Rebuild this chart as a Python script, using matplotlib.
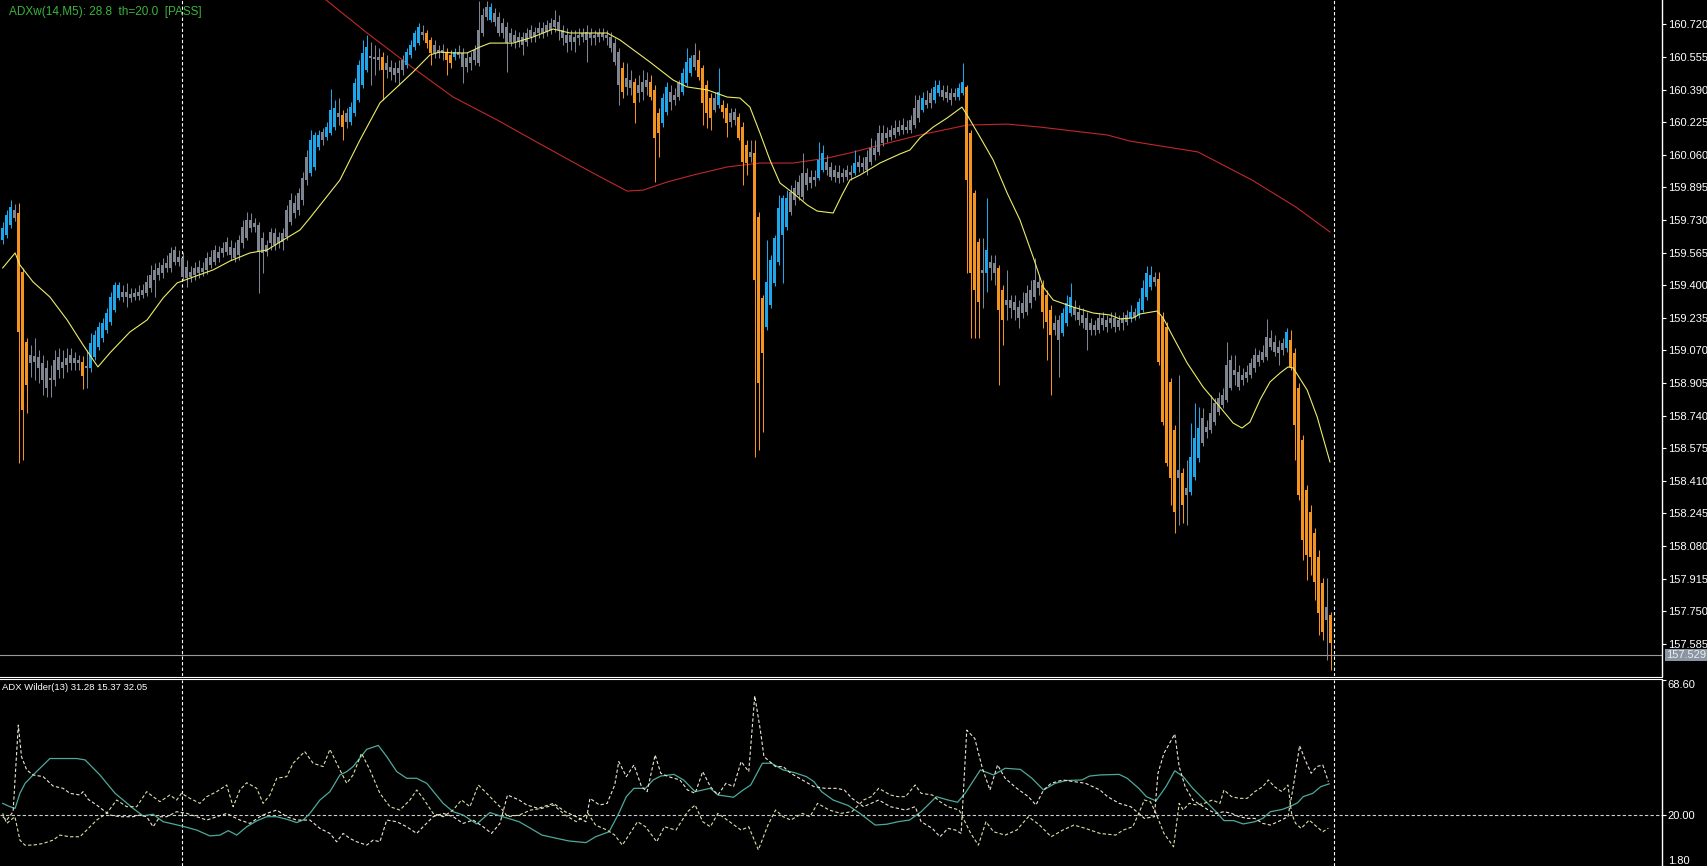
import matplotlib.pyplot as plt
from matplotlib.lines import Line2D

# USDJPY-style M5 candles, oldest first (bar index = position in list)
opens = [
    159.628, 159.654, 159.704, 159.780, 159.765, 159.466, 159.112, 159.006, 159.041, 159.036,
    159.006, 158.981, 158.920, 158.920, 158.970, 159.011, 158.996, 159.006, 159.031, 159.006,
    159.011, 158.981, 158.981, 159.036, 159.087, 159.132, 159.173, 159.213, 159.274, 159.335,
    159.365, 159.340, 159.355, 159.340, 159.345, 159.350, 159.360, 159.385, 159.426, 159.451,
    159.461, 159.487, 159.487, 159.517, 159.542, 159.537, 159.436, 159.466, 159.451, 159.461,
    159.487, 159.477, 159.502, 159.517, 159.568, 159.563, 159.568, 159.593, 159.537, 159.552,
    159.613, 159.638, 159.730, 159.694, 159.704, 159.563, 159.603, 159.613, 159.664, 159.613,
    159.618, 159.644, 159.719, 159.816, 159.780, 159.831, 159.932, 159.967, 159.998, 160.099,
    160.134, 160.150, 160.170, 160.200, 160.271, 160.261, 160.226, 160.226, 160.271, 160.337,
    160.413, 160.489, 160.560, 160.544, 160.555, 160.555, 160.489, 160.504, 160.463, 160.499,
    160.489, 160.514, 160.565, 160.605, 160.625, 160.681, 160.676, 160.641, 160.575, 160.590,
    160.575, 160.580, 160.565, 160.555, 160.580, 160.575, 160.504, 160.524, 160.539, 160.524,
    160.676, 160.757, 160.742, 160.777, 160.757, 160.676, 160.706, 160.630, 160.666, 160.630,
    160.656, 160.630, 160.656, 160.681, 160.676, 160.701, 160.681, 160.691, 160.706, 160.732,
    160.691, 160.666, 160.630, 160.656, 160.651, 160.656, 160.681, 160.651, 160.666, 160.656,
    160.676, 160.666, 160.656, 160.625, 160.580, 160.499, 160.403, 160.438, 160.428, 160.372,
    160.377, 160.403, 160.428, 160.388, 160.271, 160.220, 160.276, 160.377, 160.337, 160.352,
    160.377, 160.423, 160.474, 160.504, 160.539, 160.499, 160.413, 160.347, 160.286, 160.312,
    160.312, 160.296, 160.226, 160.276, 160.251, 160.200, 160.109, 160.048, 160.069, 159.745,
    159.335, 159.188, 159.299, 159.411, 159.517, 159.654, 159.694, 159.770, 159.831, 159.856,
    159.846, 159.967, 159.917, 159.947, 159.942, 159.983, 160.023, 159.998, 159.947, 159.973,
    159.947, 159.947, 159.973, 159.967, 159.998, 160.018, 159.983, 160.023, 160.094, 160.074,
    160.170, 160.145, 160.150, 160.160, 160.175, 160.185, 160.200, 160.185, 160.210, 160.246,
    160.286, 160.337, 160.322, 160.337, 160.372, 160.388, 160.347, 160.372, 160.352, 160.352,
    160.372, 160.403, 160.170, 159.866, 159.618, 159.461, 159.461, 159.517, 159.512, 159.487,
    159.375, 159.299, 159.325, 159.315, 159.289, 159.259, 159.264, 159.310, 159.340, 159.416,
    159.401, 159.350, 159.274, 159.173, 159.224, 159.158, 159.208, 159.259, 159.289, 159.264,
    159.249, 159.234, 159.173, 159.198, 159.173, 159.234, 159.188, 159.208, 159.234, 159.188,
    159.208, 159.213, 159.234, 159.264, 159.249, 159.274, 159.340, 159.390, 159.441, 159.431,
    159.239, 159.188, 158.910, 158.667, 158.424, 158.449, 158.338, 158.353, 158.429, 158.525,
    158.601, 158.682, 158.667, 158.707, 158.758, 158.793, 158.819, 158.879, 158.970, 158.960,
    158.920, 158.930, 158.945, 158.981, 159.046, 159.021, 159.036, 159.132, 159.112, 159.057,
    159.072, 159.082, 159.122, 159.057, 158.879, 158.616, 158.363, 158.252, 158.145, 158.024,
    157.892, 157.705, 157.730,
]
highs = [
    159.719, 159.780, 159.831, 159.811, 159.816, 159.487, 159.132, 159.097, 159.132, 159.072,
    159.046, 159.021, 158.996, 159.072, 159.082, 159.072, 159.082, 159.082, 159.062, 159.046,
    159.041, 159.072, 159.158, 159.173, 159.213, 159.234, 159.284, 159.365, 159.416, 159.416,
    159.401, 159.411, 159.385, 159.385, 159.401, 159.406, 159.451, 159.502, 159.512, 159.517,
    159.537, 159.552, 159.593, 159.598, 159.578, 159.568, 159.527, 159.497, 159.517, 159.527,
    159.517, 159.568, 159.578, 159.603, 159.598, 159.618, 159.644, 159.628, 159.618, 159.654,
    159.730, 159.770, 159.765, 159.740, 159.719, 159.669, 159.628, 159.689, 159.689, 159.669,
    159.689, 159.805, 159.866, 159.856, 159.892, 159.973, 160.084, 160.185, 160.175, 160.185,
    160.195, 160.226, 160.393, 160.337, 160.347, 160.286, 160.296, 160.327, 160.448, 160.539,
    160.641, 160.666, 160.630, 160.615, 160.600, 160.580, 160.565, 160.539, 160.529, 160.539,
    160.565, 160.600, 160.641, 160.691, 160.727, 160.716, 160.691, 160.656, 160.641, 160.615,
    160.620, 160.600, 160.590, 160.600, 160.615, 160.600, 160.580, 160.580, 160.615, 160.838,
    160.803, 160.838, 160.828, 160.803, 160.782, 160.752, 160.732, 160.701, 160.691, 160.681,
    160.681, 160.701, 160.716, 160.706, 160.732, 160.732, 160.742, 160.752, 160.792, 160.767,
    160.716, 160.701, 160.691, 160.691, 160.701, 160.701, 160.716, 160.701, 160.691, 160.701,
    160.701, 160.691, 160.681, 160.651, 160.600, 160.529, 160.524, 160.489, 160.448, 160.463,
    160.489, 160.479, 160.463, 160.413, 160.296, 160.372, 160.428, 160.413, 160.398, 160.438,
    160.499, 160.600, 160.565, 160.625, 160.590, 160.514, 160.438, 160.372, 160.377, 160.499,
    160.337, 160.322, 160.296, 160.296, 160.271, 160.226, 160.134, 160.134, 160.134, 159.770,
    159.350, 159.628, 159.552, 159.654, 159.856, 159.856, 159.881, 159.907, 159.932, 159.957,
    160.069, 159.993, 159.983, 159.983, 160.124, 160.109, 160.059, 160.023, 160.008, 160.008,
    159.993, 160.008, 160.008, 160.084, 160.059, 160.048, 160.084, 160.145, 160.134, 160.210,
    160.210, 160.200, 160.210, 160.236, 160.236, 160.246, 160.236, 160.261, 160.362, 160.362,
    160.377, 160.388, 160.398, 160.438, 160.438, 160.413, 160.413, 160.398, 160.398, 160.423,
    160.524, 160.413, 160.185, 159.881, 159.638, 159.638, 159.841, 159.552, 159.552, 159.502,
    159.401, 159.477, 159.350, 159.350, 159.325, 159.365, 159.401, 159.426, 159.537, 159.451,
    159.426, 159.375, 159.299, 159.249, 159.249, 159.284, 159.350, 159.411, 159.325, 159.299,
    159.284, 159.264, 159.234, 159.224, 159.259, 159.264, 159.249, 159.264, 159.264, 159.249,
    159.264, 159.274, 159.299, 159.284, 159.335, 159.426, 159.497, 159.497, 159.466, 159.466,
    159.264, 159.213, 158.930, 158.692, 158.945, 158.474, 158.515, 158.702, 158.803, 158.783,
    158.778, 158.717, 158.844, 158.829, 158.859, 158.879, 159.112, 159.046, 159.046, 158.996,
    158.981, 158.996, 159.031, 159.082, 159.072, 159.097, 159.229, 159.173, 159.148, 159.122,
    159.132, 159.183, 159.173, 159.082, 158.905, 158.641, 158.388, 158.287, 158.171, 158.059,
    157.918, 157.918, 157.746,
]
lows = [
    159.608, 159.638, 159.689, 159.725, 158.500, 158.515, 158.753, 158.935, 158.920, 158.905,
    158.844, 158.834, 158.834, 158.889, 158.930, 158.930, 158.960, 158.970, 158.970, 158.970,
    158.874, 158.879, 158.960, 159.021, 159.072, 159.112, 159.158, 159.198, 159.264, 159.325,
    159.315, 159.289, 159.315, 159.325, 159.325, 159.335, 159.345, 159.365, 159.340, 159.426,
    159.436, 159.466, 159.466, 159.502, 159.497, 159.426, 159.390, 159.416, 159.426, 159.436,
    159.446, 159.456, 159.487, 159.502, 159.517, 159.542, 159.552, 159.527, 159.517, 159.527,
    159.588, 159.628, 159.669, 159.669, 159.360, 159.461, 159.547, 159.578, 159.578, 159.588,
    159.578, 159.628, 159.704, 159.740, 159.755, 159.805, 159.907, 159.952, 159.983, 160.084,
    160.109, 160.134, 160.160, 160.185, 160.210, 160.134, 160.195, 160.210, 160.256, 160.327,
    160.398, 160.479, 160.413, 160.463, 160.489, 160.337, 160.448, 160.438, 160.428, 160.413,
    160.463, 160.499, 160.549, 160.590, 160.615, 160.641, 160.600, 160.514, 160.549, 160.549,
    160.539, 160.463, 160.499, 160.539, 160.549, 160.423, 160.479, 160.489, 160.514, 160.509,
    160.661, 160.742, 160.732, 160.711, 160.661, 160.651, 160.479, 160.610, 160.600, 160.605,
    160.565, 160.610, 160.630, 160.630, 160.651, 160.651, 160.661, 160.671, 160.681, 160.641,
    160.615, 160.580, 160.590, 160.580, 160.615, 160.630, 160.529, 160.615, 160.615, 160.630,
    160.641, 160.615, 160.580, 160.514, 160.312, 160.347, 160.362, 160.362, 160.220, 160.327,
    160.337, 160.362, 160.337, 159.922, 160.048, 160.200, 160.261, 160.286, 160.312, 160.337,
    160.362, 160.408, 160.458, 160.489, 160.438, 160.210, 160.195, 160.185, 160.276, 160.296,
    160.246, 160.150, 160.200, 160.210, 160.134, 159.907, 159.957, 160.023, 158.530, 158.566,
    158.657, 159.173, 159.284, 159.396, 159.502, 159.411, 159.679, 159.755, 159.805, 159.831,
    159.831, 159.881, 159.892, 159.902, 159.932, 159.973, 159.957, 159.932, 159.922, 159.917,
    159.922, 159.932, 159.932, 159.957, 159.973, 159.973, 159.957, 160.008, 160.033, 160.059,
    160.104, 160.124, 160.134, 160.145, 160.160, 160.165, 160.170, 160.170, 160.195, 160.226,
    160.276, 160.296, 160.296, 160.322, 160.357, 160.337, 160.327, 160.312, 160.337, 160.337,
    160.362, 159.461, 159.132, 159.132, 159.132, 159.284, 159.365, 159.426, 159.401, 158.895,
    159.097, 159.224, 159.234, 159.224, 159.183, 159.234, 159.249, 159.284, 159.325, 159.350,
    159.183, 159.021, 158.844, 159.148, 158.935, 159.143, 159.193, 159.244, 159.224, 159.198,
    159.183, 159.072, 159.148, 159.148, 159.158, 159.173, 159.163, 159.183, 159.163, 159.173,
    159.173, 159.198, 159.213, 159.224, 159.234, 159.264, 159.325, 159.375, 159.396, 158.996,
    158.692, 158.485, 158.287, 158.145, 158.186, 158.196, 158.186, 158.338, 158.414, 158.505,
    158.586, 158.626, 158.652, 158.692, 158.743, 158.778, 158.808, 158.869, 158.895, 158.869,
    158.895, 158.910, 158.930, 158.960, 158.991, 159.011, 159.021, 159.072, 159.041, 158.996,
    159.046, 159.062, 158.970, 158.515, 158.313, 158.009, 157.908, 157.933, 157.806, 157.629,
    157.604, 157.503, 157.452,
]
closes = [
    159.689, 159.755, 159.795, 159.740, 159.163, 158.768, 158.895, 159.046, 159.011, 158.981,
    158.920, 158.879, 158.930, 159.021, 159.036, 158.981, 159.031, 159.046, 159.006, 159.021,
    158.940, 158.991, 159.107, 159.148, 159.188, 159.208, 159.259, 159.340, 159.401, 159.401,
    159.340, 159.365, 159.335, 159.360, 159.365, 159.375, 159.416, 159.451, 159.477, 159.487,
    159.502, 159.512, 159.563, 159.578, 159.517, 159.441, 159.492, 159.441, 159.487, 159.492,
    159.466, 159.537, 159.542, 159.578, 159.537, 159.588, 159.618, 159.552, 159.588, 159.628,
    159.694, 159.730, 159.689, 159.714, 159.568, 159.638, 159.568, 159.669, 159.603, 159.644,
    159.664, 159.780, 159.831, 159.765, 159.866, 159.942, 160.048, 160.134, 160.160, 160.160,
    160.175, 160.200, 160.286, 160.296, 160.251, 160.200, 160.271, 160.301, 160.423, 160.514,
    160.575, 160.605, 160.549, 160.555, 160.539, 160.489, 160.524, 160.479, 160.499, 160.474,
    160.539, 160.580, 160.615, 160.676, 160.706, 160.666, 160.625, 160.575, 160.615, 160.575,
    160.590, 160.539, 160.524, 160.580, 160.565, 160.504, 160.549, 160.555, 160.590, 160.691,
    160.767, 160.808, 160.808, 160.732, 160.676, 160.727, 160.625, 160.676, 160.630, 160.656,
    160.615, 160.676, 160.691, 160.656, 160.701, 160.676, 160.716, 160.727, 160.742, 160.691,
    160.651, 160.625, 160.666, 160.630, 160.666, 160.676, 160.641, 160.676, 160.651, 160.676,
    160.656, 160.651, 160.600, 160.529, 160.413, 160.377, 160.448, 160.398, 160.322, 160.413,
    160.428, 160.438, 160.352, 160.145, 160.170, 160.347, 160.403, 160.327, 160.362, 160.423,
    160.474, 160.529, 160.549, 160.565, 160.453, 160.322, 160.271, 160.246, 160.347, 160.377,
    160.276, 160.220, 160.271, 160.236, 160.145, 160.023, 160.018, 160.074, 159.426, 158.905,
    159.057, 159.416, 159.527, 159.638, 159.790, 159.841, 159.841, 159.871, 159.892, 159.922,
    159.967, 159.907, 159.947, 159.932, 160.033, 160.069, 159.983, 159.947, 159.983, 159.942,
    159.967, 159.983, 159.957, 160.018, 160.023, 159.998, 160.048, 160.094, 160.059, 160.170,
    160.119, 160.170, 160.185, 160.195, 160.200, 160.210, 160.185, 160.236, 160.296, 160.337,
    160.347, 160.312, 160.372, 160.403, 160.413, 160.352, 160.377, 160.337, 160.372, 160.398,
    160.428, 159.932, 159.461, 159.375, 159.315, 159.477, 159.578, 159.487, 159.461, 159.274,
    159.224, 159.325, 159.284, 159.274, 159.234, 159.310, 159.360, 159.375, 159.426, 159.385,
    159.264, 159.213, 159.148, 159.208, 159.122, 159.259, 159.310, 159.340, 159.249, 159.224,
    159.208, 159.173, 159.208, 159.173, 159.234, 159.198, 159.224, 159.234, 159.188, 159.224,
    159.234, 159.249, 159.264, 159.239, 159.315, 159.385, 159.461, 159.451, 159.416, 159.011,
    158.707, 158.500, 158.424, 158.252, 158.464, 158.287, 158.373, 158.530, 158.626, 158.677,
    158.728, 158.657, 158.753, 158.803, 158.829, 158.844, 158.996, 159.021, 158.945, 158.884,
    158.945, 158.960, 159.006, 159.046, 159.011, 159.062, 159.137, 159.087, 159.062, 159.087,
    159.107, 159.163, 158.986, 158.692, 158.338, 158.110, 158.034, 158.024, 157.897, 157.741,
    157.644, 157.771, 157.589,
]

# bar colouring from the ADX filter: b = trend up, o = trend down, g = no trend
state_runs = [
    ('b', 3), ('g', 1), ('o', 3), ('g', 13), ('o', 1), ('g', 1), ('b', 8), ('g', 47),
    ('b', 3), ('g', 1), ('b', 3), ('g', 1), ('o', 1), ('g', 1), ('b', 5), ('g', 3),
    ('o', 1), ('g', 5), ('b', 4), ('g', 1), ('o', 2), ('g', 3), ('o', 2), ('b', 1),
    ('g', 8), ('b', 1), ('g', 32), ('o', 1), ('g', 2), ('o', 1), ('g', 3), ('o', 3),
    ('b', 2), ('g', 3), ('b', 3), ('g', 1), ('o', 4), ('g', 1), ('b', 1), ('o', 2),
    ('g', 2), ('o', 3), ('g', 1), ('o', 3), ('b', 6), ('g', 7), ('b', 2), ('g', 7),
    ('b', 1), ('g', 16), ('b', 1), ('g', 2), ('b', 2), ('g', 4), ('b', 2), ('o', 4),
    ('g', 1), ('b', 1), ('g', 2), ('o', 2), ('g', 9), ('o', 3), ('g', 2), ('b', 3),
    ('g', 14), ('b', 1), ('g', 1), ('b', 4), ('g', 1), ('o', 5), ('g', 1), ('o', 1),
    ('g', 1), ('b', 3), ('g', 21), ('b', 1), ('o', 9), ('g', 1), ('o', 1),
]

# moving averages (bar, price)
fast_ma = [
    (0, 159.487), (3.1, 159.563), (4.3, 159.502), (7.6, 159.416), (11.8, 159.340),
    (16.1, 159.224), (20.1, 159.097), (23.8, 158.986), (26.8, 159.057), (31.8, 159.163),
    (36.1, 159.224), (40.1, 159.335), (43.6, 159.411), (47.6, 159.441), (52.6, 159.477),
    (56.8, 159.522), (61.8, 159.563), (66.1, 159.578), (70.1, 159.628), (74.3, 159.679),
    (76.8, 159.740), (84.3, 159.932), (89.3, 160.134), (94.3, 160.322), (98.6, 160.403),
    (102.6, 160.479), (106.8, 160.565), (109.3, 160.580), (112.6, 160.575), (116.1, 160.575),
    (119.3, 160.605), (121.8, 160.625), (127.6, 160.625), (132.6, 160.656), (137.6, 160.696),
    (141.8, 160.676), (151.1, 160.676), (154.3, 160.641), (161.8, 160.529), (167.6, 160.438),
    (171.1, 160.403), (176.1, 160.388), (181.1, 160.352), (184.3, 160.347), (186.8, 160.301),
    (189.3, 160.170), (191.8, 160.033), (194.3, 159.917), (197.6, 159.866), (201.1, 159.806),
    (203.6, 159.775), (207.6, 159.765), (209.8, 159.856), (211.8, 159.932), (214.3, 159.957),
    (219.3, 160.018), (224.3, 160.064), (226.8, 160.084), (229.3, 160.145), (232.6, 160.200),
    (236.1, 160.246), (239.8, 160.301), (241.1, 160.261), (244.3, 160.150), (247.6, 160.033),
    (251.1, 159.866), (254.3, 159.730), (257.6, 159.542), (260.1, 159.391), (262.6, 159.325),
    (267.6, 159.289), (272.6, 159.259), (276.8, 159.249), (279.3, 159.229), (282.6, 159.234),
    (284.3, 159.254), (288.6, 159.269), (290.1, 159.234), (292.6, 159.137), (296.1, 159.006),
    (300.1, 158.884), (304.3, 158.783), (307.6, 158.702), (309.8, 158.677), (311.8, 158.707),
    (314.3, 158.819), (316.8, 158.910), (319.3, 158.955), (321.3, 158.986), (322.6, 158.981),
    (326.1, 158.869), (328.6, 158.733), (331.8, 158.505),
]
slow_ma = [
    (79.3, 160.868), (91.1, 160.676), (102.6, 160.499), (112.6, 160.352), (123.6, 160.236),
    (132.6, 160.134), (139.3, 160.059), (147.6, 159.967), (156.1, 159.876), (160.1, 159.881),
    (166.1, 159.922), (172.6, 159.957), (181.1, 159.998), (189.3, 160.018), (197.6, 160.018),
    (206.1, 160.043), (211.8, 160.069), (219.3, 160.109), (229.3, 160.160), (241.1, 160.210),
    (251.1, 160.215), (259.3, 160.200), (267.6, 160.180), (276.1, 160.160), (281.8, 160.129),
    (298.8, 160.074), (312.3, 159.932), (323.3, 159.795), (331.8, 159.669),
]

# ADX Wilder(13) sub window (bar, value)
adx_line = [
    (0, 24.3), (1.8, 23.1), (3.1, 22.5), (4.3, 27.9), (5.6, 31.5), (7.6, 34.5), (11.8, 40.4),
    (18.5, 40.4), (20.6, 39.9), (24.3, 34.5), (28.1, 27.9), (32.6, 22.5), (35.1, 19.8),
    (37.6, 20.4), (40.1, 17.7), (42.6, 16.9), (46.0, 15.7), (48.5, 14.7), (51.8, 12.6),
    (54.3, 12.9), (56.4, 14.5), (58.5, 12.9), (61.0, 15.9), (63.5, 18.0), (66.0, 19.5),
    (68.5, 19.5), (71.0, 18.6), (73.5, 17.4), (75.1, 18.3), (76.8, 20.7), (79.3, 25.5),
    (81.8, 28.5), (84.3, 34.5), (86.0, 35.7), (87.6, 37.5), (91.0, 43.7), (93.9, 45.1),
    (96.0, 41.1), (98.5, 35.7), (101.0, 33.3), (103.5, 33.3), (106.0, 31.5), (110.1, 24.3),
    (112.6, 21.3), (115.1, 20.1), (118.5, 16.9), (121.8, 21.0), (124.3, 19.8), (129.1, 17.7),
    (132.0, 15.3), (134.8, 12.9), (138.6, 11.7), (141.5, 10.8), (145.8, 10.2), (148.2, 12.3),
    (151.6, 14.1), (154.0, 20.7), (155.9, 26.7), (157.8, 29.7), (160.7, 29.7), (162.6, 32.7),
    (164.5, 34.1), (167.8, 34.7), (170.2, 32.7), (173.1, 28.5), (176.9, 29.7), (178.8, 27.3),
    (182.7, 26.5), (185.1, 29.1), (187.0, 30.9), (189.9, 38.7), (192.2, 38.7), (195.1, 36.3),
    (198.0, 35.3), (200.9, 33.9), (202.8, 32.1), (204.7, 28.5), (207.6, 25.5), (211.4, 23.5),
    (214.3, 20.7), (218.1, 16.5), (221.0, 16.8), (223.8, 17.7), (226.7, 18.3), (229.6, 21.3),
    (233.4, 26.7), (236.3, 25.5), (238.7, 24.7), (240.6, 27.9), (244.4, 36.3), (247.7, 34.5),
    (250.6, 36.9), (254.4, 36.5), (257.3, 33.3), (260.2, 29.1), (263.1, 31.5), (265.9, 32.5),
    (269.8, 32.7), (271.7, 34.1), (274.3, 34.5), (279.1, 34.7), (281.1, 33.3), (284.0, 29.7),
    (285.9, 26.7), (288.3, 25.2), (290.8, 30.3), (293.0, 36.0), (295.1, 33.9), (297.5, 29.7),
    (300.4, 25.5), (303.3, 21.3), (305.3, 18.1), (307.7, 18.1), (310.1, 16.9), (313.0, 17.7),
    (315.0, 18.9), (316.9, 21.3), (319.8, 22.1), (321.7, 23.1), (323.7, 24.5), (325.1, 26.7),
    (327.5, 27.9), (329.5, 30.3), (331.6, 31.3),
]
plus_di = [
    (0, 20.7), (1.0, 17.1), (3.05, 19.5), (4.3, 11.1), (5.55, 9.3), (7.6, 9.3), (10.1, 9.9),
    (12.6, 11.1), (14.3, 12.9), (16.8, 12.3), (19.3, 12.3), (21.0, 14.7), (23.5, 18.3),
    (26.0, 20.7), (28.5, 25.5), (31.0, 23.1), (33.5, 23.1), (36.0, 28.5), (37.6, 26.7),
    (39.3, 24.9), (41.8, 27.3), (43.5, 25.5), (44.7, 27.9), (46.8, 26.1), (49.3, 24.3),
    (51.0, 26.7), (53.5, 28.5), (56.0, 30.9), (57.6, 23.1), (59.3, 29.1), (61.0, 31.7),
    (63.5, 29.7), (65.1, 24.3), (66.8, 27.3), (68.5, 33.3), (71.0, 33.9), (72.6, 38.7),
    (75.5, 42.9), (77.6, 38.7), (80.1, 37.5), (81.8, 43.7), (84.3, 36.3), (86.0, 31.5),
    (87.6, 34.5), (89.7, 42.3), (91.8, 36.3), (94.3, 27.9), (96.8, 23.1), (99.3, 21.9),
    (101.8, 25.5), (103.5, 29.1), (105.1, 26.1), (107.6, 20.7), (110.1, 19.5), (112.6, 21.9),
    (114.7, 25.5), (116.8, 23.1), (118.9, 30.9), (121.0, 27.9), (122.6, 25.5), (124.3, 23.1),
    (126.2, 19.5), (129.1, 20.1), (132.0, 21.9), (134.8, 22.5), (137.7, 23.7), (140.6, 20.1),
    (143.4, 17.7), (146.3, 20.7), (148.2, 16.5), (151.1, 14.7), (153.0, 12.9), (154.9, 9.3),
    (156.8, 13.5), (158.7, 17.7), (160.7, 15.9), (163.5, 10.5), (165.4, 15.9), (168.3, 14.7),
    (171.2, 21.3), (173.1, 23.7), (175.0, 17.7), (176.9, 15.9), (178.8, 20.7), (181.7, 17.7),
    (184.6, 14.7), (186.5, 15.9), (188.9, 7.6), (191.3, 16.5), (193.2, 21.9), (195.1, 19.5),
    (197.0, 18.3), (199.9, 20.7), (201.8, 19.5), (203.7, 24.3), (206.6, 21.9), (209.5, 20.7),
    (212.3, 21.3), (215.2, 25.5), (217.1, 26.7), (219.0, 29.7), (221.9, 27.3), (223.8, 26.7),
    (225.7, 26.7), (228.1, 30.9), (229.6, 27.9), (232.4, 27.3), (234.3, 24.9), (236.3, 23.1),
    (239.1, 21.9), (242.0, 13.5), (243.9, 9.3), (245.8, 17.7), (247.7, 14.1), (250.6, 12.9),
    (253.5, 14.7), (256.4, 19.5), (259.2, 16.5), (262.1, 12.3), (265.0, 14.7), (267.8, 16.5),
    (270.7, 15.3), (274.3, 13.5), (278.2, 12.9), (280.1, 14.7), (282.5, 15.9), (284.0, 20.7),
    (285.4, 25.5), (286.9, 24.9), (288.3, 20.7), (290.3, 13.5), (292.7, 8.7), (294.1, 24.3),
    (295.1, 21.9), (296.6, 24.3), (298.5, 23.7), (300.4, 24.3), (302.4, 25.5), (304.3, 24.3),
    (305.3, 29.1), (307.2, 26.7), (309.1, 26.1), (311.1, 26.1), (313.0, 28.5), (315.0, 30.3),
    (316.4, 32.7), (317.9, 30.3), (319.8, 28.5), (321.3, 30.9), (322.2, 20.7), (323.2, 17.1),
    (324.6, 15.3), (326.6, 18.3), (328.5, 15.9), (330.0, 14.1), (331.4, 15.4),
]
minus_di = [
    (0, 19.5), (1.0, 18.3), (2.6, 21.3), (3.9, 52.4), (4.7, 41.1), (6.0, 36.3), (7.6, 34.5),
    (10.1, 33.9), (12.6, 30.5), (15.1, 29.7), (16.8, 27.9), (19.3, 27.3), (20.1, 28.5),
    (21.4, 25.7), (23.5, 23.7), (25.1, 21.9), (26.8, 20.1), (29.3, 19.5), (32.6, 19.5),
    (34.3, 20.1), (36.0, 19.5), (37.6, 15.9), (39.3, 19.5), (41.0, 19.5), (43.5, 21.3),
    (46.0, 20.7), (48.5, 19.5), (51.0, 18.3), (53.5, 19.5), (56.0, 20.7), (57.6, 19.5),
    (59.3, 18.3), (61.8, 17.1), (64.3, 19.5), (66.0, 20.7), (68.5, 21.9), (71.0, 19.5),
    (73.5, 18.3), (76.8, 18.3), (79.3, 15.3), (81.8, 13.5), (83.5, 10.5), (85.1, 13.5),
    (86.8, 11.7), (88.5, 10.5), (91.0, 9.3), (92.6, 11.1), (94.3, 10.5), (96.0, 18.3),
    (98.5, 17.7), (101.0, 15.9), (103.5, 13.5), (105.1, 15.9), (107.6, 19.5), (110.1, 20.7),
    (112.6, 19.5), (115.1, 17.1), (117.6, 18.3), (120.1, 15.9), (122.2, 13.5), (124.3, 17.1),
    (126.2, 27.3), (129.1, 25.5), (131.0, 23.7), (133.9, 22.5), (137.7, 24.3), (140.6, 21.3),
    (143.4, 19.5), (145.8, 17.7), (146.8, 26.1), (149.2, 23.7), (151.1, 24.3), (153.0, 30.9),
    (154.0, 39.3), (155.9, 33.9), (157.8, 38.1), (159.7, 30.3), (161.1, 28.5), (163.1, 41.7),
    (164.5, 35.1), (166.4, 33.9), (169.3, 32.7), (171.2, 29.1), (173.1, 27.9), (175.0, 35.7),
    (176.9, 30.3), (178.8, 27.3), (180.8, 31.5), (182.7, 30.3), (184.6, 39.3), (186.5, 35.7),
    (188.0, 62.9), (189.4, 50.6), (190.3, 41.1), (193.2, 37.5), (195.1, 37.5), (197.0, 35.1),
    (199.9, 32.7), (202.8, 30.3), (205.6, 29.7), (208.5, 29.7), (210.4, 29.1), (212.3, 26.1),
    (215.2, 23.1), (219.0, 25.5), (221.9, 23.1), (225.7, 21.9), (228.1, 23.1), (229.6, 17.7),
    (232.4, 15.3), (234.3, 12.3), (236.3, 15.3), (238.2, 14.7), (239.6, 13.5), (241.0, 50.6),
    (243.0, 47.6), (244.9, 36.9), (246.8, 29.1), (248.7, 38.1), (250.6, 33.3), (253.5, 29.7),
    (256.4, 26.7), (258.3, 23.7), (260.2, 29.1), (262.1, 31.5), (265.0, 32.7), (267.8, 32.1),
    (270.7, 31.5), (274.3, 29.1), (276.2, 26.7), (279.1, 24.3), (282.0, 23.1), (284.0, 20.7),
    (285.4, 18.9), (287.9, 19.5), (288.8, 35.1), (290.3, 42.3), (291.7, 45.9), (293.0, 49.2),
    (294.1, 37.5), (295.6, 30.3), (297.5, 25.5), (299.5, 23.7), (301.4, 21.9), (303.3, 20.7),
    (305.3, 21.3), (307.2, 20.7), (309.1, 19.5), (311.1, 18.9), (313.0, 18.9), (315.0, 17.1),
    (316.9, 16.5), (318.8, 17.7), (321.3, 19.5), (322.7, 30.9), (324.2, 45.0), (325.6, 39.9),
    (327.1, 35.1), (328.5, 37.5), (330.0, 38.1), (331.4, 32.05),
]

price_ticks = [160.720, 160.555, 160.390, 160.225, 160.060, 159.895, 159.730, 159.565,
               159.400, 159.235, 159.070, 158.905, 158.740, 158.575, 158.410, 158.245,
               158.080, 157.915, 157.750, 157.585]
adx_ticks = [68.60, 20.00, 1.80]
bid = 157.529
adx_level = 20.0
separators = [44.8, 332.8]

W, H = 1707, 866
PLOT_W = 1662          # price scale strip starts here
MAIN_H = 676
SUB_TOP = 680

mt_font = ['Liberation Sans Narrow', 'Liberation Sans', 'DejaVu Sans']
colors = {'b': '#1ea5ea', 'o': '#f39320', 'g': '#7f8590'}

fig = plt.figure(figsize=(W / 100, H / 100), dpi=100, facecolor='black')
ax = fig.add_axes([0, 1 - MAIN_H / H, PLOT_W / W, MAIN_H / H])
sub = fig.add_axes([0, 0, PLOT_W / W, (H - SUB_TOP) / H])

for a in (ax, sub):
    a.set_facecolor('black')
    a.set_xlim(-0.675, 414.8)
    a.set_xticks([])
    for side in ('left', 'top', 'bottom'):
        a.spines[side].set_visible(False)
    a.spines['right'].set_color('white')
    a.spines['right'].set_linewidth(1.0)
    a.yaxis.tick_right()
    a.tick_params(axis='y', colors='white', length=3, width=0.8, pad=1.2)
    for b in separators:
        a.axvline(b, color='white', lw=0.8, ls=(0, (3, 2)), zorder=1)

# main window
ax.set_ylim(157.422, 160.843)
ax.set_yticks(price_ticks, labels=[f'{v:.3f}' for v in price_ticks],
              fontfamily=mt_font, fontsize=8)

ax.plot(*zip(*slow_ma), color='#c0282a', lw=0.8, zorder=2)

state = ''.join(c * n for c, n in state_runs)
bar_cols = [colors[s] for s in state]
idx = list(range(len(closes)))
ax.vlines(idx, lows, highs, colors=bar_cols, lw=0.75, zorder=3)
bottoms = [min(o, c) for o, c in zip(opens, closes)]
heights = [max(abs(c - o), 0.004) for o, c in zip(opens, closes)]
ax.bar(idx, heights, bottom=bottoms, width=0.8, color=bar_cols, lw=0, zorder=4)

ax.plot(*zip(*fast_ma), color='#ecec6a', lw=0.8, zorder=5)

ax.axhline(bid, color='#9a9a9a', lw=0.8, zorder=2)
ax.text(1.0025, bid, f'{bid:.3f}', transform=ax.get_yaxis_transform(),
        ha='left', va='center', fontfamily=mt_font, fontsize=8, color='#e8edf2',
        bbox=dict(boxstyle='square,pad=0.12', fc='#8a95a1', ec='none'), clip_on=False)

fig.text(9 / W, 1 - 12 / H, 'ADXw(14,M5): 28.8  th=20.0  [PASS]', color='#3cb43c',
         fontfamily=mt_font, fontsize=8.5, va='center', ha='left')

# ADX window
sub.set_ylim(1.8, 68.6)
sub.set_yticks(adx_ticks, labels=[f'{v:.2f}' for v in adx_ticks],
               fontfamily=mt_font, fontsize=8)
tl = sub.get_yticklabels()
tl[0].set_va('top')
tl[2].set_va('bottom')

sub.axhline(adx_level, color='#d0d0d0', lw=0.8, ls=(0, (3, 2)), zorder=1)
sub.plot(*zip(*adx_line), color='#4ea99b', lw=0.9, zorder=3)
sub.plot(*zip(*plus_di), color='#d6e3a6', lw=0.8, ls=(0, (3, 2)), zorder=3)
sub.plot(*zip(*minus_di), color='#ece6d4', lw=0.8, ls=(0, (3, 2)), zorder=3)

fig.text(2 / W, 1 - 687 / H, 'ADX Wilder(13) 31.28 15.37 32.05', color='white',
         fontfamily=mt_font, fontsize=6.8, va='center', ha='left')

# double divider between the windows
for ypx in (676.5, 679.0):
    fig.add_artist(Line2D([0, PLOT_W / W], [1 - ypx / H, 1 - ypx / H],
                          transform=fig.transFigure, color='white', lw=0.8))

fig.savefig('out.png', dpi=100, facecolor='black')
